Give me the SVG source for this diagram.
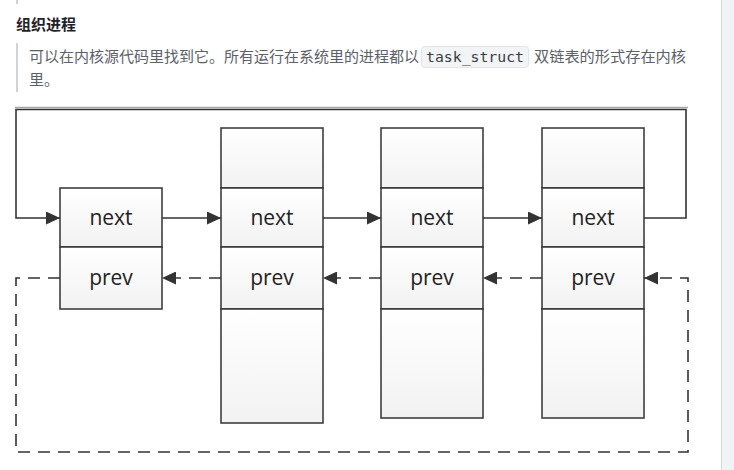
<svg xmlns="http://www.w3.org/2000/svg" width="734" height="470" viewBox="0 0 734 470">
<defs>
<style>
.h{font-family:"Noto Sans CJK SC","Noto Sans",sans-serif;font-size:15px;font-weight:bold;fill:#1f2329}
.p{font-family:"Noto Sans CJK SC","Noto Sans",sans-serif;font-size:15px;fill:#5c6068}
.code{font-family:"DejaVu Sans Mono","Liberation Mono",monospace;font-size:14.5px;fill:#3a3d44}
.cell{fill:url(#g);stroke:#333;stroke-width:1.5}
.lbl{font-family:"Open Sans","Noto Sans",sans-serif;font-size:21px;fill:#222;text-anchor:middle}
.ln{fill:none;stroke:#333;stroke-width:1.6}
.dash{fill:none;stroke:#333;stroke-width:1.6;stroke-dasharray:12 8}
</style>
<linearGradient id="g" x1="0" y1="0" x2="0" y2="1">
<stop offset="0" stop-color="#ffffff"/>
<stop offset="1" stop-color="#f2f2f2"/>
</linearGradient>
<marker id="ah" viewBox="0 0 14 13" refX="14" refY="6.5" markerWidth="14" markerHeight="13" markerUnits="userSpaceOnUse" orient="auto">
<path d="M0,0 L14,6.5 L0,13 Z" fill="#333"/>
</marker>
</defs>
<rect x="0" y="0" width="734" height="470" fill="#ffffff"/>
<rect x="722" y="0" width="12" height="470" fill="#f1f2f6"/>
<line x1="721.5" y1="0" x2="721.5" y2="470" stroke="#d6d9df" stroke-width="1"/>
<line x1="17" y1="0" x2="17" y2="4" stroke="#d0d3d9" stroke-width="2"/>

<g id="heading">
<text class="h" x="16" y="30">组织进程</text>
</g>
<g id="quote">
<rect x="16" y="43" width="2" height="49" fill="#d0d3d9"/>
<text class="p" x="29" y="62" textLength="390" lengthAdjust="spacingAndGlyphs">可以在内核源代码里找到它。所有运行在系统里的进程都以</text>
<rect x="421.5" y="46.5" width="107" height="21" rx="3" fill="#f3f4f6" stroke="#e2e4e8"/>
<text class="code" x="426" y="62" textLength="98" lengthAdjust="spacingAndGlyphs">task_struct</text>
<text class="p" x="534" y="62" textLength="152" lengthAdjust="spacingAndGlyphs">双链表的形式存在内核</text>
<text class="p" x="29" y="85">里。</text>
</g>

<line x1="15" y1="107.5" x2="688" y2="107.5" stroke="#a8a8a8" stroke-width="1.5"/>

<g id="node1">
<rect class="cell" x="60" y="188" width="102" height="59"/>
<rect class="cell" x="60" y="247" width="102" height="62"/>
<text class="lbl" x="111" y="225">next</text>
<text class="lbl" x="111" y="285">prev</text>
</g>
<g id="node2">
<rect class="cell" x="221" y="128" width="102" height="60"/>
<rect class="cell" x="221" y="188" width="102" height="59"/>
<rect class="cell" x="221" y="247" width="102" height="62"/>
<rect class="cell" x="221" y="309" width="102" height="114"/>
<text class="lbl" x="272" y="225">next</text>
<text class="lbl" x="272" y="285">prev</text>
</g>
<g id="node3">
<rect class="cell" x="381" y="128" width="102" height="60"/>
<rect class="cell" x="381" y="188" width="102" height="59"/>
<rect class="cell" x="381" y="247" width="102" height="62"/>
<rect class="cell" x="381" y="309" width="102" height="109"/>
<text class="lbl" x="432" y="225">next</text>
<text class="lbl" x="432" y="285">prev</text>
</g>
<g id="node4">
<rect class="cell" x="542" y="128" width="102" height="60"/>
<rect class="cell" x="542" y="188" width="102" height="59"/>
<rect class="cell" x="542" y="247" width="102" height="62"/>
<rect class="cell" x="542" y="309" width="102" height="109"/>
<text class="lbl" x="593" y="225">next</text>
<text class="lbl" x="593" y="285">prev</text>
</g>

<g id="connectors">
<path class="ln" d="M644,218 H686 V109.5 H16 V218 H60" marker-end="url(#ah)"/>
<path class="ln" d="M162,218 H221" marker-end="url(#ah)"/>
<path class="ln" d="M323,218 H381" marker-end="url(#ah)"/>
<path class="ln" d="M483,218 H542" marker-end="url(#ah)"/>
<path class="dash" d="M221,278 H162" marker-end="url(#ah)"/>
<path class="dash" d="M381,278 H323" marker-end="url(#ah)"/>
<path class="dash" d="M542,278 H483" marker-end="url(#ah)"/>
<path class="dash" d="M60,278 H16 V452 H688 V278 H644" marker-end="url(#ah)"/>
</g>
</svg>
